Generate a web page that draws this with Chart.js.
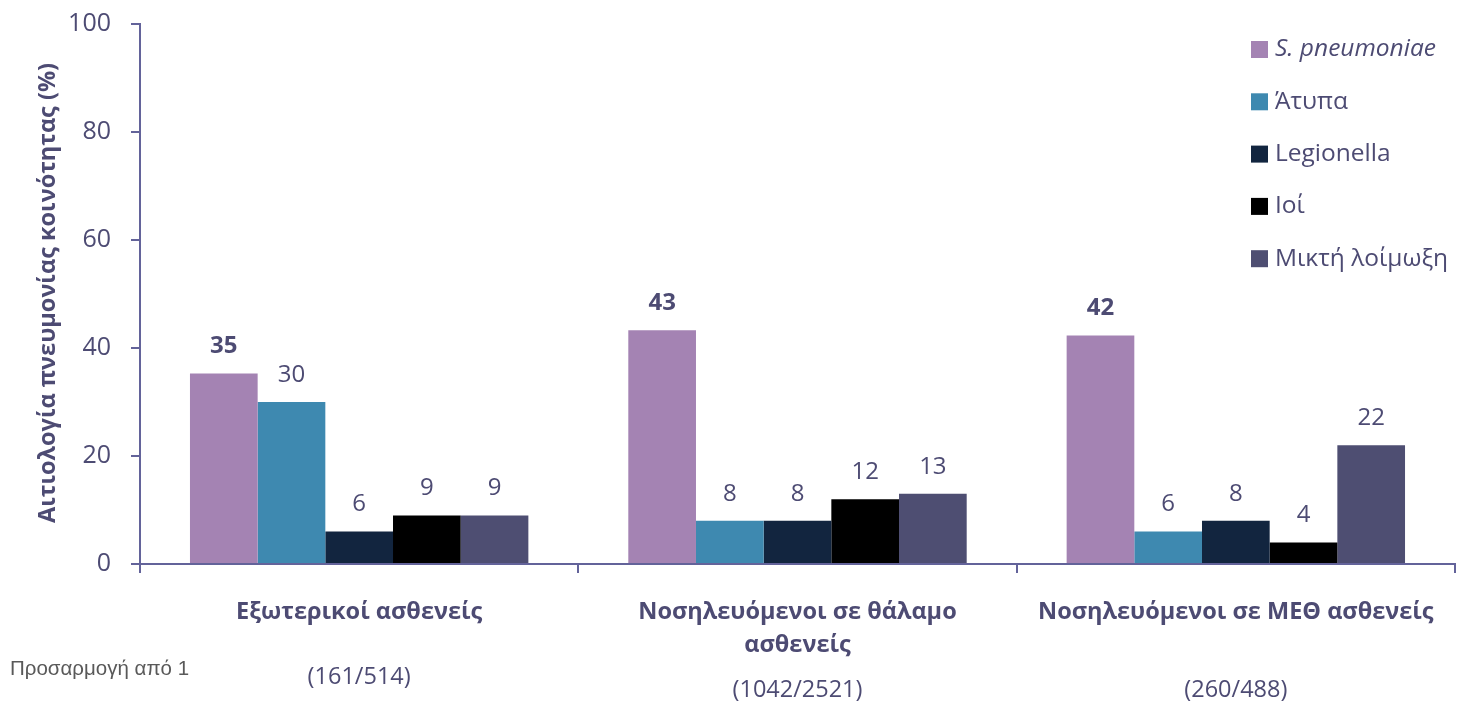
<!DOCTYPE html>
<html>
<head>
<meta charset="utf-8">
<script src="https://cdn.jsdelivr.net/npm/chart.js@4"></script>
<style>
  html, body { margin: 0; padding: 0; background: #fff; }
  #wrap { width: 1458px; height: 704px; position: relative; }
</style>
</head>
<body>
<div id="wrap"><canvas id="chart" width="1458" height="704"></canvas></div>
<script>
// data
const categories = [
  ['Εξωτερικοί ασθενείς'],
  ['Νοσηλευόμενοι σε θάλαμο', 'ασθενείς'],
  ['Νοσηλευόμενοι σε ΜΕΘ ασθενείς']
];
const sampleSizes = ['(161/514)', '(1042/2521)', '(260/488)'];
const seriesNames = ['S. pneumoniae', 'Άτυπα', 'Legionella', 'Ιοί', 'Μικτή λοίμωξη'];
const pneumoniae = [35.3, 43.3, 42.3];
const atypical = [30, 8, 6];
const legionella = [6, 8, 8];
const viruses = [9, 12, 4];
const mixed = [9, 13, 22];
const yTicks = [0, 20, 40, 60, 80, 100];
const yTitle = 'Αιτιολογία πνευμονίας κοινότητας (%)';
const footnote = 'Προσαρμογή από 1';

const seriesColors = ['#a483b3', '#3e89b0', '#12253f', '#000000', '#4e4e72'];
const textColor = '#4d4b73';
const axisColor = '#63639a';
const FONT = "'Open Sans', sans-serif";

const allSeries = [pneumoniae, atypical, legionella, viruses, mixed];

const overlay = {
  id: 'overlay',
  afterDatasetsDraw(chart) {
    const ctx = chart.ctx;
    const x = chart.scales.x;
    ctx.save();

    // value labels above bars
    ctx.textAlign = 'center';
    ctx.textBaseline = 'middle';
    chart.data.datasets.forEach((ds, di) => {
      const meta = chart.getDatasetMeta(di);
      meta.data.forEach((bar, i) => {
        ctx.font = (di === 0 ? 'bold ' : '') + '24px ' + FONT;
        ctx.fillStyle = textColor;
        ctx.fillText(String(Math.round(ds.data[i])), bar.x, bar.y - 27);
      });
    });

    // category labels and sample sizes
    const countY = [677, 690, 690];
    categories.forEach((lines, i) => {
      const cx = x.getPixelForValue(i);
      ctx.font = 'bold 23.5px ' + FONT;
      ctx.fillStyle = textColor;
      lines.forEach((ln, k) => ctx.fillText(ln, cx, 612 + k * 33));
      ctx.font = '23.5px ' + FONT;
      ctx.fillText(sampleSizes[i], cx, countY[i]);
    });

    // y axis title
    ctx.save();
    ctx.translate(48, 293);
    ctx.rotate(-Math.PI / 2);
    ctx.font = 'bold 23.5px ' + FONT;
    ctx.fillStyle = textColor;
    ctx.fillText(yTitle, 0, 0);
    ctx.restore();

    // legend
    ctx.textAlign = 'left';
    chart.data.datasets.forEach((ds, di) => {
      const cy = 49.5 + di * 52.3;
      ctx.fillStyle = ds.backgroundColor;
      ctx.fillRect(1251, cy - 8.5, 17, 17);
      ctx.fillStyle = textColor;
      ctx.font = (di === 0 ? 'italic ' : '') + '24.5px ' + FONT;
      ctx.fillText(ds.label, 1275, cy);
    });

    // footnote
    ctx.font = "20.5px 'Liberation Sans', Arial, sans-serif";
    ctx.fillStyle = '#595959';
    ctx.fillText(footnote, 10, 669);

    ctx.restore();
  }
};

new Chart(document.getElementById('chart'), {
  type: 'bar',
  data: {
    labels: categories.map(c => c.join(' ')),
    datasets: allSeries.map((vals, i) => ({
      label: seriesNames[i],
      data: vals,
      backgroundColor: seriesColors[i],
      borderWidth: 0,
      barPercentage: 1,
      categoryPercentage: 0.772
    }))
  },
  options: {
    responsive: false,
    animation: false,
    layout: { padding: { top: 24, right: 3, left: 0, bottom: 0 } },
    plugins: { legend: { display: false }, tooltip: { enabled: false } },
    scales: {
      x: {
        grid: { drawOnChartArea: false, color: axisColor, lineWidth: 2, tickLength: 9, offset: true },
        border: { color: axisColor, width: 2 },
        ticks: { callback: () => '' },
        afterFit(scale) {
          scale.height = 140;
          scale.paddingLeft = 0;
          scale.paddingRight = 0;
        }
      },
      y: {
        min: 0,
        max: 100,
        afterBuildTicks(scale) { scale.ticks = yTicks.map(v => ({ value: v })); },
        grid: { drawOnChartArea: false, color: axisColor, lineWidth: 2, tickLength: 9 },
        border: { color: axisColor, width: 2 },
        ticks: {
          color: textColor,
          font: { family: FONT, size: 25 },
          padding: 20
        },
        afterFit(scale) {
          scale.width = 140;
          scale.paddingTop = 0;
          scale.paddingBottom = 0;
        }
      }
    }
  },
  plugins: [overlay]
});
</script>
</body>
</html>
